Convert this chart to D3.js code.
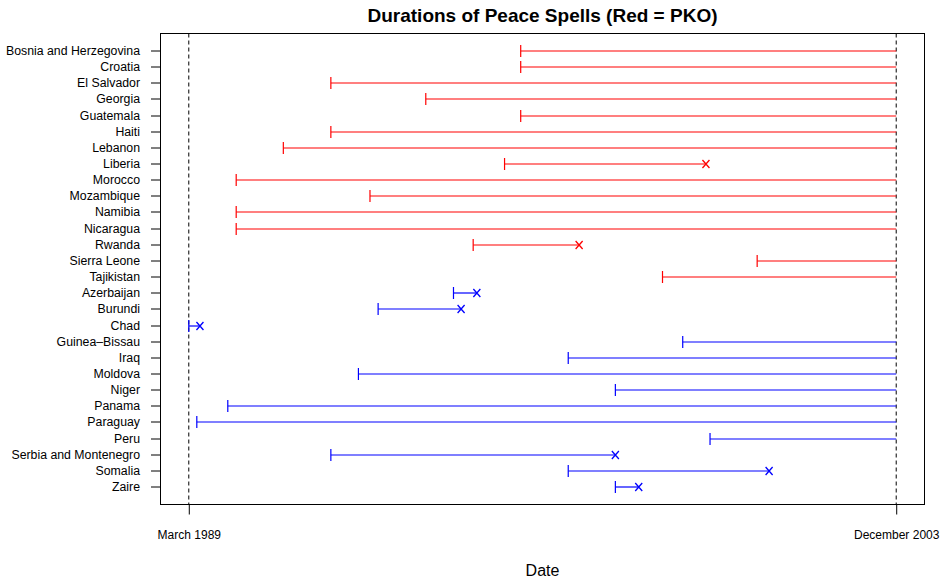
<!DOCTYPE html>
<html>
<head>
<meta charset="utf-8">
<script src="https://cdn.jsdelivr.net/npm/d3@7"></script>
<style>
  html, body { margin: 0; padding: 0; background: #fff; }
  svg { display: block; font-family: "Liberation Sans", Arial, Helvetica, sans-serif; }
</style>
</head>
<body>
<svg id="chart" width="942" height="580"></svg>
<script>
// Countries, top to bottom
const countries = [
  "Bosnia and Herzegovina", "Croatia", "El Salvador", "Georgia", "Guatemala",
  "Haiti", "Lebanon", "Liberia", "Morocco", "Mozambique", "Namibia", "Nicaragua",
  "Rwanda", "Sierra Leone", "Tajikistan",
  "Azerbaijan", "Burundi", "Chad", "Guinea\u2013Bissau", "Iraq", "Moldova", "Niger",
  "Panama", "Paraguay", "Peru", "Serbia and Montenegro", "Somalia", "Zaire"
];
// 1 = peacekeeping operation present (red), 0 = none (blue)
const pko = [1,1,1,1,1,1,1,1,1,1,1,1,1,1,1, 0,0,0,0,0,0,0,0,0,0,0,0,0];
// Start of each peace spell
const spellStart = [
  "1996-02-01", "1996-02-01", "1992-02-16", "1994-02-08", "1996-02-01",
  "1992-02-16", "1991-02-19", "1995-10-01", "1990-02-25", "1992-12-10",
  "1990-02-25", "1990-02-25", "1995-02-04", "2001-01-06", "1999-01-16",
  "1994-09-07", "1993-02-10", "1989-03-01", "1999-06-19", "1997-01-28",
  "1992-09-13", "1998-01-22", "1989-12-23", "1989-05-01", "2000-01-13",
  "1992-02-16", "1997-01-28", "1998-01-22"
];
// End of each spell (observation window ends December 2003)
const spellEnd = [
  "2003-12-01", "2003-12-01", "2003-12-01", "2003-12-01", "2003-12-01",
  "2003-12-01", "2003-12-01", "1999-12-13", "2003-12-01", "2003-12-01",
  "2003-12-01", "2003-12-01", "1997-04-21", "2003-12-01", "2003-12-01",
  "1995-03-04", "1994-11-04", "1989-05-25", "2003-12-01", "2003-12-01",
  "2003-12-01", "2003-12-01", "2003-12-01", "2003-12-01", "2003-12-01",
  "1998-01-22", "2001-04-07", "1998-07-19"
];
// 1 = spell ended in renewed war (marked x), 0 = still at peace at window end
const failed = [0,0,0,0,0,0,0,1,0,0,0,0,1,0,0, 1,1,1,0,0,0,0,0,0,0,1,1,1];
// Observation window bounds and their axis labels
const windowDates = ["1989-03-01", "2003-12-01"];
const windowLabels = ["March 1989", "December 2003"];

const parse = d3.timeParse("%Y-%m-%d");
const rows = countries.map((c, i) => ({
  country: c,
  pko: pko[i],
  start: parse(spellStart[i]),
  end: parse(spellEnd[i]),
  failed: failed[i],
  idx: i + 1
}));
const win = windowDates.map(parse);

const svg = d3.select("#chart");
const plot = { left: 160.5, right: 924.5, top: 33.5, bottom: 504.5 };

// 4% padding on both axes
const t0 = +win[0], t1 = +win[1];
const pad = (t1 - t0) * 0.04;
const x = d3.scaleTime()
  .domain([new Date(t0 - pad), new Date(t1 + pad)])
  .range([plot.left, plot.right]);

const n = countries.length;
const yPad = (n - 1) * 0.04;
// Row 1 (first country) sits at the top
const y = d3.scaleLinear()
  .domain([1 - yPad, n + yPad])
  .range([plot.top, plot.bottom]);
// rows on whole pixels: each line softly covers two pixel rows
const yOf = d => Math.round(y(d.idx));

const colorOf = d => d.pko ? "#ff0000" : "#0000ff";

// Window boundary lines
svg.append("g").selectAll("line")
  .data(win)
  .join("line")
  .attr("x1", d => x(d)).attr("x2", d => x(d))
  .attr("y1", plot.top).attr("y2", plot.bottom)
  .attr("stroke", "#000").attr("stroke-width", 1)
  .attr("stroke-dasharray", "4,3");

// Spell segments
const g = svg.append("g");
g.selectAll("line.spell")
  .data(rows)
  .join("line")
  .attr("class", "spell")
  .attr("x1", d => x(d.start)).attr("x2", d => x(d.end))
  .attr("y1", yOf).attr("y2", yOf)
  .attr("stroke", colorOf).attr("stroke-width", 1.2);

// Start markers
g.selectAll("line.start")
  .data(rows)
  .join("line")
  .attr("class", "start")
  .attr("x1", d => x(d.start)).attr("x2", d => x(d.start))
  .attr("y1", d => yOf(d) - 6).attr("y2", d => yOf(d) + 6)
  .attr("stroke", colorOf).attr("stroke-width", 1.2);

// Failure markers
g.selectAll("path.fail")
  .data(rows.filter(d => d.failed))
  .join("path")
  .attr("class", "fail")
  .attr("d", d => {
    const cx = x(d.end), cy = yOf(d);
    return `M${cx - 3.5},${cy - 4}L${cx + 3.5},${cy + 4}M${cx - 3.5},${cy + 4}L${cx + 3.5},${cy - 4}`;
  })
  .attr("stroke", colorOf).attr("stroke-width", 1.3).attr("fill", "none");

// Plot frame
svg.append("rect")
  .attr("x", plot.left).attr("y", plot.top)
  .attr("width", plot.right - plot.left).attr("height", plot.bottom - plot.top)
  .attr("fill", "none").attr("stroke", "#000").attr("stroke-width", 1);

// Left axis: country names
const yAxis = d3.axisLeft(d3.scaleLinear().domain(y.domain()).range(y.range()))
  .tickValues(rows.map(d => d.idx))
  .tickFormat(v => countries[v - 1])
  .tickSize(9.5).tickPadding(11);
const ya = svg.append("g")
  .attr("transform", `translate(${plot.left},0)`)
  .call(yAxis);
ya.select(".domain").remove();
ya.selectAll(".tick").attr("transform", v => `translate(0,${yOf(rows[v - 1])})`);
ya.selectAll("text").attr("font-size", 12.3).attr("fill", "#000")
  .attr("font-family", "'Liberation Sans', Arial, sans-serif");
ya.selectAll("line").attr("stroke", "#000");

// Bottom axis: window bounds
const xAxis = d3.axisBottom(x)
  .tickValues(win)
  .tickFormat((d, i) => windowLabels[i])
  .tickSize(10).tickPadding(16);
const xa = svg.append("g")
  .attr("transform", `translate(0,${plot.bottom})`)
  .call(xAxis);
xa.select(".domain").remove();
xa.selectAll("text").attr("font-size", 12).attr("fill", "#000")
  .attr("font-family", "'Liberation Sans', Arial, sans-serif");
xa.selectAll("line").attr("stroke", "#000");

// Title and axis title
svg.append("text")
  .attr("x", (plot.left + plot.right) / 2).attr("y", 22)
  .attr("text-anchor", "middle")
  .attr("font-size", 19).attr("font-weight", "bold")
  .text("Durations of Peace Spells (Red = PKO)");

svg.append("text")
  .attr("x", (plot.left + plot.right) / 2).attr("y", 576)
  .attr("text-anchor", "middle")
  .attr("font-size", 16)
  .text("Date");
</script>
</body>
</html>
